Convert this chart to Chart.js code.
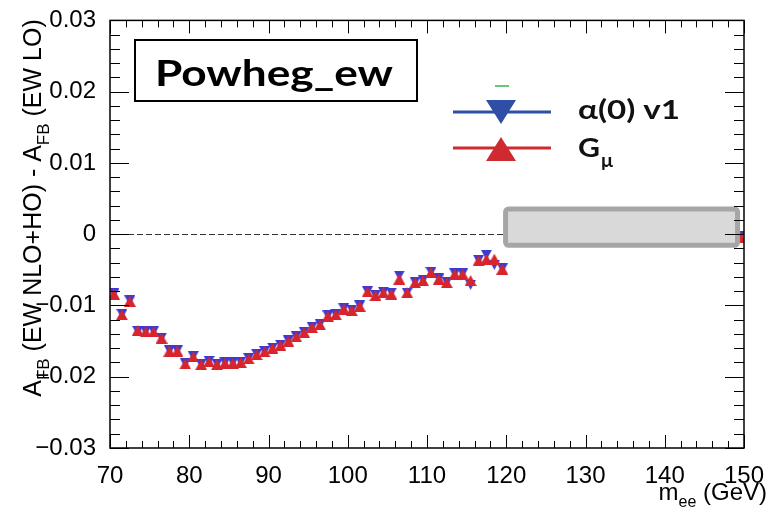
<!DOCTYPE html>
<html lang="en">
<head>
<meta charset="UTF-8">
<title>Powheg_ew A_FB difference</title>
<script src="https://cdn.jsdelivr.net/npm/chart.js"></script>
<style>
  html, body { margin: 0; padding: 0; background: #fff; }
  #wrap { width: 778px; height: 508px; }
</style>
</head>
<body>
<div id="wrap"><canvas id="afbChart" width="778" height="508"></canvas></div>
<script>
// bin centres (GeV)
var massBins = [70.5, 71.5, 72.5, 73.5, 74.5, 75.5, 76.5, 77.5, 78.5, 79.5,
                80.5, 81.5, 82.5, 83.5, 84.5, 85.5, 86.5, 87.5, 88.5, 89.5,
                90.5, 91.5, 92.5, 93.5, 94.5, 95.5, 96.5, 97.5, 98.5, 99.5,
                100.5, 101.5, 102.5, 103.5, 104.5, 105.5, 106.5, 107.5, 108.5, 109.5,
                110.5, 111.5, 112.5, 113.5, 114.5, 115.5, 116.5, 117.5, 118.5, 119.5,
                149.5];

// G_mu scheme (red, up triangles)
var gMu = [-0.0084, -0.0113, -0.0094, -0.0135, -0.0137, -0.0137, -0.0146, -0.0164, -0.0164, -0.0182,
           -0.0172, -0.0183, -0.0179, -0.0183, -0.0181, -0.0181, -0.0180, -0.0175, -0.0169, -0.0165,
           -0.0160, -0.0156, -0.0150, -0.0144, -0.0138, -0.0131, -0.0127, -0.0115, -0.0113, -0.0105,
           -0.0107, -0.0101, -0.0081, -0.0086, -0.0082, -0.0084, -0.0063, -0.0082, -0.0068, -0.0065,
           -0.0054, -0.0063, -0.0068, -0.0056, -0.0056, -0.0065, -0.0037, -0.0035, -0.0035, -0.0049,
           -0.0004];

// alpha(0) v1 (blue, down triangles)
var alphaV1 = [-0.0083, -0.0112, -0.0093, -0.0136, -0.0136, -0.0136, -0.0145, -0.0163, -0.0163, -0.0181,
               -0.0171, -0.0182, -0.0178, -0.0182, -0.0180, -0.0180, -0.0179, -0.0174, -0.0168, -0.0164,
               -0.0159, -0.0155, -0.0149, -0.0143, -0.0137, -0.0130, -0.0126, -0.0114, -0.0112, -0.0104,
               -0.0106, -0.0100, -0.0080, -0.0085, -0.0081, -0.0082, -0.0058, -0.0082, -0.0067, -0.0064,
               -0.0053, -0.0062, -0.0067, -0.0055, -0.0055, -0.0071, -0.0036, -0.0029, -0.0043, -0.0048,
               -0.0003];

var xTickLabels = [70, 80, 90, 100, 110, 120, 130, 140, 150];
var yTickLabels = [-0.03, -0.02, -0.01, 0, 0.01, 0.02, 0.03];

var RED = '#d6252d';
var BLUE = '#3b3bd4';
var AXIS_FONT = '"Liberation Sans", Arial, sans-serif';
var BOLD_FONT = 'Lato, "Open Sans", sans-serif';

function toPoints(xs, ys) {
  return xs.map(function (x, i) { return { x: x, y: ys[i] }; });
}

// ROOT-like triangle marker, centred on its bounding box (not on the centroid)
function triangleMarker(color, down, w, h) {
  var c = document.createElement('canvas');
  c.width = w; c.height = h;
  var g = c.getContext('2d');
  g.fillStyle = color;
  g.beginPath();
  if (down) {
    g.moveTo(0, 0); g.lineTo(w, 0); g.lineTo(w / 2, h);
  } else {
    g.moveTo(w / 2, 0); g.lineTo(w, h); g.lineTo(0, h);
  }
  g.closePath();
  g.fill();
  return c;
}

// text made of normal and subscript pieces, starting at x on baseline y
function drawParts(ctx, parts, x, y, size, subSize) {
  parts.forEach(function (p) {
    ctx.font = (p.sub ? subSize : size) + 'px ' + AXIS_FONT;
    ctx.fillText(p.t, x, p.sub ? y + size * 0.3 : y);
    x += ctx.measureText(p.t).width;
  });
}
function partsWidth(ctx, parts, size, subSize) {
  var w = 0;
  parts.forEach(function (p) {
    ctx.font = (p.sub ? subSize : size) + 'px ' + AXIS_FONT;
    w += ctx.measureText(p.t).width;
  });
  return w;
}

// bold text stretched to a given width (the picture's font is wider than Lato)
function fitText(ctx, text, x, y, width) {
  var w = ctx.measureText(text).width;
  ctx.save();
  ctx.translate(x, y);
  ctx.scale(width / w, 1);
  ctx.fillText(text, 0, 0);
  ctx.restore();
}

var zeroLine = {
  id: 'zeroLine',
  beforeDatasetsDraw: function (chart) {
    var ctx = chart.ctx, a = chart.chartArea, ys = chart.scales.y;
    var y0 = Math.round(ys.getPixelForValue(0)) + 0.5;
    ctx.save();
    ctx.strokeStyle = '#333';
    ctx.lineWidth = 1;
    ctx.setLineDash([6, 3]);
    ctx.beginPath();
    ctx.moveTo(a.left, y0);
    ctx.lineTo(a.right, y0);
    ctx.stroke();
    ctx.restore();
  }
};

var decorations = {
  id: 'decorations',
  afterDatasetsDraw: function (chart) {
    var ctx = chart.ctx, a = chart.chartArea;
    var xs = chart.scales.x, ys = chart.scales.y;
    ctx.save();

    // grey box over the 120-150 region
    var bx = xs.getPixelForValue(119.6), bx2 = xs.getPixelForValue(149.5);
    var by = ys.getPixelForValue(0.0039), by2 = ys.getPixelForValue(-0.0019);
    ctx.fillStyle = '#d9d9d9';
    ctx.strokeStyle = '#a6a6a6';
    ctx.lineWidth = 5;
    ctx.beginPath();
    ctx.roundRect(bx + 2.5, by + 2.5, bx2 - bx - 5, by2 - by - 5, 3);
    ctx.fill();
    ctx.stroke();

    // frame
    ctx.strokeStyle = '#000';
    ctx.lineWidth = 1.5;
    ctx.strokeRect(a.left, a.top, a.right - a.left, a.bottom - a.top);

    // ticks on all four sides
    ctx.lineWidth = 1;
    ctx.beginPath();
    for (var v = 70; v <= 150; v += 2) {
      var px = Math.round(xs.getPixelForValue(v)) + 0.5;
      var len = (v % 10 === 0) ? 13 : 7;
      ctx.moveTo(px, a.bottom); ctx.lineTo(px, a.bottom - len);
      ctx.moveTo(px, a.top); ctx.lineTo(px, a.top + len);
    }
    for (var k = -15; k <= 15; k++) {
      var py = Math.round(ys.getPixelForValue(k * 0.002)) + 0.5;
      var ylen = (k % 5 === 0) ? 19 : 10;
      ctx.moveTo(a.left, py); ctx.lineTo(a.left + ylen, py);
      ctx.moveTo(a.right, py); ctx.lineTo(a.right - ylen, py);
    }
    ctx.stroke();

    // title box
    ctx.lineWidth = 2;
    ctx.strokeRect(135, 40, 282, 61);
    ctx.fillStyle = '#000';
    ctx.textAlign = 'left';
    ctx.textBaseline = 'alphabetic';
    ctx.font = 'bold 36px ' + BOLD_FONT;
    fitText(ctx, 'Powheg_ew', 155, 86, 238);

    // legend
    ctx.lineWidth = 3;
    ctx.strokeStyle = '#2f4ea6';
    ctx.beginPath(); ctx.moveTo(453, 112); ctx.lineTo(551, 112); ctx.stroke();
    ctx.strokeStyle = '#cf2a2f';
    ctx.beginPath(); ctx.moveTo(453, 148); ctx.lineTo(551, 148); ctx.stroke();
    ctx.strokeStyle = '#2db84a';
    ctx.lineWidth = 1.5;
    ctx.beginPath(); ctx.moveTo(495, 86); ctx.lineTo(509, 86); ctx.stroke();
    ctx.fillStyle = '#2f4ea6';
    ctx.beginPath(); ctx.moveTo(486, 100); ctx.lineTo(516, 100); ctx.lineTo(501, 124); ctx.closePath(); ctx.fill();
    ctx.fillStyle = '#cf2a2f';
    ctx.beginPath(); ctx.moveTo(501, 137); ctx.lineTo(516, 161); ctx.lineTo(486, 161); ctx.closePath(); ctx.fill();
    ctx.fillStyle = '#111';
    ctx.font = 'bold 27px ' + BOLD_FONT;
    fitText(ctx, '\u03b1(0) v1', 578, 119, 102);
    fitText(ctx, 'G', 578, 157, 22);
    ctx.font = 'bold 19px ' + BOLD_FONT;
    fitText(ctx, '\u03bc', 601, 167, 12);

    // axis titles
    ctx.fillStyle = '#000';
    var xParts = [{ t: 'm' }, { t: 'ee', sub: true }, { t: ' (GeV)' }];
    var xw = partsWidth(ctx, xParts, 24, 16);
    drawParts(ctx, xParts, 767 - xw, 500, 24, 16);

    var yParts = [{ t: 'A' }, { t: 'FB', sub: true }, { t: ' (EW NLO+HO) - A' }, { t: 'FB', sub: true }, { t: ' (EW LO)' }];
    var yw = partsWidth(ctx, yParts, 25, 17);
    ctx.translate(41, 208);
    ctx.rotate(-Math.PI / 2);
    drawParts(ctx, yParts, -yw / 2, 0, 25, 17);

    ctx.restore();
  }
};

new Chart(document.getElementById('afbChart').getContext('2d'), {
  type: 'scatter',
  data: {
    datasets: [
      {
        label: 'G\u03bc',
        data: toPoints(massBins, gMu),
        pointStyle: triangleMarker(RED, false, 12, 11),
        backgroundColor: RED,
        borderColor: RED
      },
      {
        label: '\u03b1(0) v1',
        data: toPoints(massBins, alphaV1),
        pointStyle: triangleMarker(BLUE, true, 11, 10),
        backgroundColor: BLUE,
        borderColor: BLUE
      }
    ]
  },
  options: {
    responsive: false,
    animation: false,
    layout: { padding: { top: 16, right: 34, left: 0, bottom: 0 } },
    plugins: { legend: { display: false }, tooltip: { enabled: false } },
    scales: {
      x: {
        type: 'linear',
        min: 70,
        max: 150,
        grid: { display: false },
        border: { display: false },
        afterFit: function (s) { s.height = 60; },
        afterBuildTicks: function (s) { s.ticks = xTickLabels.map(function (v) { return { value: v }; }); },
        ticks: {
          padding: 6,
          color: '#000',
          maxRotation: 0,
          font: { family: AXIS_FONT, size: 24 },
          callback: function (v) { return String(v); }
        }
      },
      y: {
        min: -0.03,
        max: 0.03,
        grid: { display: false },
        border: { display: false },
        afterFit: function (s) { s.width = 110; },
        afterBuildTicks: function (s) { s.ticks = yTickLabels.map(function (v) { return { value: v }; }); },
        ticks: {
          padding: 6,
          color: '#000',
          font: { family: AXIS_FONT, size: 24 },
          callback: function (v) {
            var r = Math.round(v * 100) / 100;
            if (r === 0) return '0';
            return (r < 0 ? '\u2212' : '') + Math.abs(r).toFixed(2);
          }
        }
      }
    }
  },
  plugins: [zeroLine, decorations]
});
</script>
</body>
</html>
